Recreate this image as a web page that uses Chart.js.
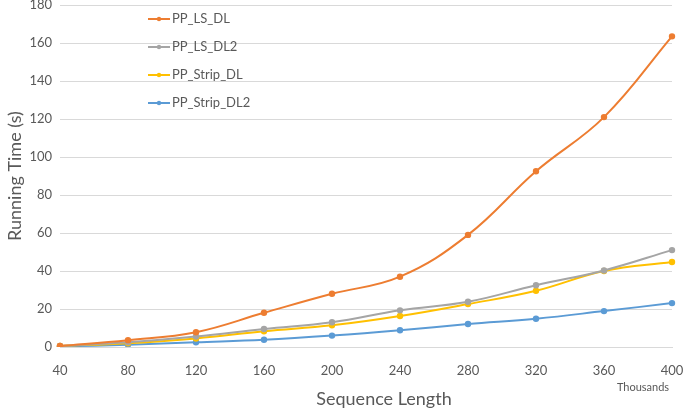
<!DOCTYPE html>
<html>
<head>
<meta charset="utf-8">
<script src="https://cdn.jsdelivr.net/npm/chart.js@4"></script>
<style>
  html, body { margin: 0; padding: 0; background: #fff; }
  #wrap { width: 685px; height: 410px; }
</style>
</head>
<body>
<div id="wrap"><canvas id="myChart"></canvas></div>
<script>
const labels = ['40', '80', '120', '160', '200', '240', '280', '320', '360', '400'];
const ppLsDl = [0.5, 3.6, 7.8, 18, 28, 37, 59, 92.5, 121, 163.5];
const ppLsDl2 = [0.5, 2.5, 5.5, 9.5, 13, 19.3, 23.8, 32.5, 40.3, 51];
const ppStripDl = [0.5, 2, 4.5, 8.3, 11.4, 16.3, 22.6, 29.6, 40, 44.7];
const ppStripDl2 = [0.3, 1.2, 2.5, 3.8, 6, 8.8, 12.1, 14.9, 18.9, 23.1];
const yTicks = [0, 20, 40, 60, 80, 100, 120, 140, 160, 180];

const FONT = "Lato, 'Open Sans', sans-serif";
const TEXT = '#595959';

function series(label, values, color) {
    return {
        label: label,
        data: values,
        borderColor: color,
        backgroundColor: color,
        borderWidth: 2,
        pointRadius: 2.2,
        pointHoverRadius: 3,
        tension: 0.4,
        fill: false,
    };
}

// legend drawn inside the plot, like the spreadsheet chart, plus the x title and unit label
const insideLegend = {
    id: 'insideLegend',
    afterDraw(chart) {
        const ctx = chart.ctx;
        ctx.save();
        chart.data.datasets.forEach((ds, i) => {
            const y = 19 + i * 28;
            ctx.strokeStyle = ds.borderColor;
            ctx.lineWidth = 2;
            ctx.beginPath();
            ctx.moveTo(148, y);
            ctx.lineTo(170, y);
            ctx.stroke();
            ctx.fillStyle = ds.borderColor;
            ctx.beginPath();
            ctx.arc(159, y, 2.2, 0, Math.PI * 2);
            ctx.fill();
            ctx.fillStyle = TEXT;
            ctx.font = '13px ' + FONT;
            ctx.textBaseline = 'middle';
            ctx.fillText(ds.label, 172, y);
        });
        const xs = chart.scales.x;
        ctx.font = '11px ' + FONT;
        ctx.textAlign = 'center';
        ctx.textBaseline = 'middle';
        ctx.fillText('Thousands', xs.getPixelForValue(labels.length - 1) - 29, 387);
        ctx.font = '18px ' + FONT;
        ctx.fillText('Sequence Length', 384, 399);
        ctx.restore();
    }
};

const config = {
    type: 'line',
    data: {
        labels: labels,
        datasets: [
            series('PP_LS_DL', ppLsDl, '#ED7D31'),
            series('PP_LS_DL2', ppLsDl2, '#A5A5A5'),
            series('PP_Strip_DL', ppStripDl, '#FFC000'),
            series('PP_Strip_DL2', ppStripDl2, '#5B9BD5'),
        ],
    },
    options: {
        responsive: true,
        maintainAspectRatio: false,
        animation: false,
        layout: { padding: { top: 5, right: 13, left: 0, bottom: 0 } },
        plugins: {
            legend: { display: false },
            tooltip: { enabled: false },
        },
        scales: {
            x: {
                offset: false,
                grid: { display: false },
                border: { display: true, color: '#D9D9D9' },
                ticks: { color: TEXT, font: { family: FONT, size: 13 }, padding: 8, maxRotation: 0 },
                afterFit(scale) {
                    scale.height = 63;
                    scale.paddingLeft = 0;
                    scale.paddingRight = 0;
                },
            },
            y: {
                min: 0,
                max: 180,
                afterBuildTicks(scale) { scale.ticks = yTicks.map(v => ({ value: v })); },
                grid: { color: '#D9D9D9', drawTicks: false },
                border: { display: false },
                ticks: { color: TEXT, font: { family: FONT, size: 13 }, padding: 8 },
                title: { display: true, text: 'Running Time (s)', color: TEXT, font: { family: FONT, size: 18 }, padding: { bottom: 2 } },
                afterFit(scale) {
                    scale.width = 60;
                    scale.paddingTop = 0;
                    scale.paddingBottom = 0;
                },
            },
        },
    },
    plugins: [insideLegend],
};

var myChart = new Chart(
    document.getElementById('myChart'),
    config
);
</script>
</body>
</html>
